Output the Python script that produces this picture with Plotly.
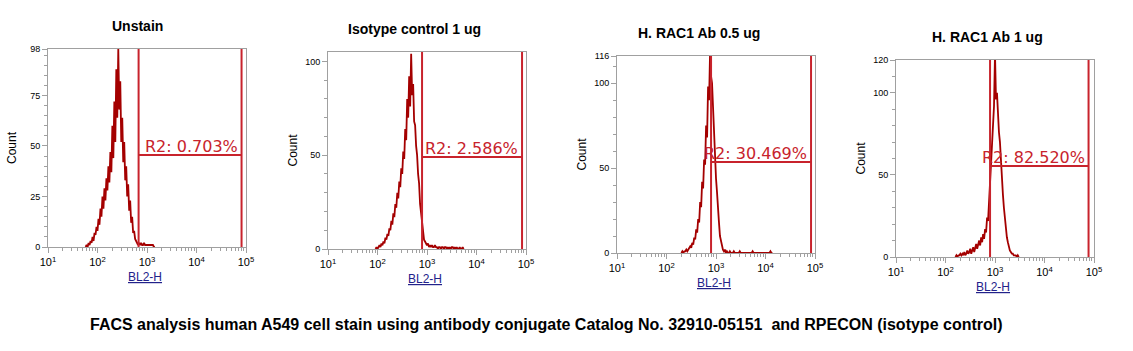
import plotly.graph_objects as go

# ---------------- data ----------------
titles = ["Unstain", "Isotype control 1 ug", "H. RAC1 Ab 0.5 ug", "H. RAC1 Ab 1 ug"]

# histogram bins: log10(BL2-H) start and step for each panel
bin_start = [1.76, 1.96, 2.30, 2.20]
bin_step = 0.02

counts_unstain = [0, 1, 0, 2, 1, 3, 2, 5, 3, 7, 6, 10, 8, 14, 11, 19, 15, 25, 19, 29,
                  23, 34, 28, 40, 32, 47, 37, 60, 44, 72, 52, 88, 64, 98, 68, 82, 52, 64, 42, 52,
                  33, 40, 25, 31, 18, 23, 12, 15, 7, 8, 4, 3, 2, 1, 2, 1, 2, 1, 1, 2,
                  1, 1, 1, 1, 1, 1, 1, 1, 1, 0, 0]
counts_isotype = [0, 1, 0, 1, 2, 1, 3, 2, 4, 3, 6, 5, 8, 7, 11, 10, 15, 13, 19, 17,
                  24, 22, 30, 27, 36, 33, 43, 40, 52, 48, 64, 58, 80, 70, 92, 76, 104, 82, 88, 68,
                  66, 55, 50, 40, 35, 24, 19, 12, 9, 5, 4, 3, 2, 3, 1, 2, 1, 2, 1, 1,
                  2, 1, 1, 0, 1, 1, 0, 1, 1, 0, 1, 1, 0, 1, 0, 1, 0, 1, 1, 0,
                  1, 0, 1, 0, 0, 1, 0, 0, 1, 0]
counts_rac1_05 = [0, 1, 0, 1, 1, 2, 1, 2, 3, 4, 3, 6, 5, 9, 8, 14, 12, 20, 18, 30,
                  27, 42, 38, 55, 52, 75, 68, 98, 90, 118, 104, 100, 86, 70, 60, 44, 36, 24, 18, 10,
                  7, 3, 2, 1, 2, 0, 1, 0, 0, 1, 0, 0, 0, 1, 0, 0, 0, 0, 0, 1,
                  0, 0, 0, 0, 0, 0, 0, 0, 0, 0, 0, 0, 1, 0, 0, 0, 0, 0, 0, 0,
                  0, 0, 0, 0, 0, 0, 0, 0, 0, 0, 1, 0, 0]
counts_rac1_1 = [0, 1, 0, 1, 1, 2, 1, 2, 1, 3, 1, 2, 4, 2, 3, 5, 2, 4, 6, 3,
                 5, 8, 5, 7, 10, 7, 12, 9, 14, 11, 17, 15, 24, 22, 34, 38, 55, 62, 80, 92,
                 124, 96, 100, 84, 76, 70, 56, 48, 38, 30, 22, 18, 12, 9, 6, 4, 3, 2, 2, 1,
                 1, 1, 0, 1, 0]
all_counts = [counts_unstain, counts_isotype, counts_rac1_05, counts_rac1_1]

# R2 gate: left / right bounds (log10 units), marker level (count), label
gate_left = [2.83, 2.90, 2.90, 2.90]
gate_right = [4.91, 4.92, 4.92, 4.89]
gate_level = [45.5, 49.0, 53.6, 55.4]
gate_labels = ["R2: 0.703%", "R2: 2.586%", "R2: 30.469%", "R2: 82.520%"]

y_max = [98, 105, 116, 120]
y_ticks = [[0, 25, 50, 75, 98], [0, 50, 100], [0, 50, 100, 116], [0, 50, 100, 120]]
y_minor = [5, 10, 10, 10]

x_tickvals = [10, 100, 1000, 10000, 100000]
x_ticktext = ["10<sup>1</sup>", "10<sup>2</sup>", "10<sup>3</sup>", "10<sup>4</sup>", "10<sup>5</sup>"]

caption = "FACS analysis human A549 cell stain using antibody conjugate Catalog No. 32910-05151  and RPECON (isotype control)"

# ---------------- layout geometry (pixels) ----------------
W, H = 1133, 351
plot_px = [(48, 246, 49, 247), (328, 526, 52, 249), (617, 815, 56, 253), (896, 1094, 60, 257)]
title_dx = [-10, -13, -17, -8]

HIST = "#a40000"
GATE = "#c8232c"
AX = "#a0a0a0"

fig = go.Figure()
layout = dict(width=W, height=H, margin=dict(l=0, r=0, t=0, b=0),
              paper_bgcolor="white", plot_bgcolor="white", showlegend=False,
              font=dict(family="Liberation Sans, Arial", color="black"))
shapes = []
annotations = []

for i in range(4):
    n = "" if i == 0 else str(i + 1)
    xa, ya = "x" + n, "y" + n
    x0, x1, y0, y1 = plot_px[i]
    xs = [10 ** (bin_start[i] + k * bin_step) for k in range(len(all_counts[i]))]
    fig.add_trace(go.Scatter(x=xs, y=all_counts[i], mode="lines", xaxis=xa, yaxis=ya,
                             line=dict(color=HIST, width=1.8), hoverinfo="skip"))
    layout["xaxis" + n] = dict(
        domain=[x0 / W, x1 / W], anchor=ya, type="log", range=[1, 5],
        tickvals=x_tickvals, ticktext=x_ticktext, ticks="outside", ticklen=5,
        tickcolor=AX, showline=True, linecolor=AX, linewidth=1, mirror=True,
        showgrid=False, zeroline=False, tickfont=dict(size=11, color="black"),
        minor=dict(ticks="outside", ticklen=3, dtick="D1", tickcolor=AX, showgrid=False),
        automargin=False)
    layout["yaxis" + n] = dict(
        domain=[1 - y1 / H, 1 - y0 / H], anchor=xa, range=[0, y_max[i]],
        tickvals=y_ticks[i], ticks="outside", ticklen=5, tickcolor=AX,
        showline=True, linecolor=AX, linewidth=1, mirror=True, showgrid=False,
        zeroline=False, tickfont=dict(size=9, color="black"),
        minor=dict(ticks="outside", ticklen=3, dtick=y_minor[i], tickcolor=AX, showgrid=False),
        automargin=False)
    # gate
    gl, gr = 10 ** gate_left[i], 10 ** gate_right[i]
    for xv in (gl, gr):
        shapes.append(dict(type="line", xref=xa, yref=ya + " domain", x0=xv, x1=xv, y0=0, y1=1,
                           line=dict(color=GATE, width=2)))
    shapes.append(dict(type="line", xref=xa, yref=ya, x0=gl, x1=gr, y0=gate_level[i], y1=gate_level[i],
                       line=dict(color=GATE, width=2)))
    annotations.append(dict(text=gate_labels[i], xref=xa, yref=ya, x=gate_right[i], y=gate_level[i],
                            xanchor="right", yanchor="bottom", showarrow=False, xshift=-2, yshift=-3,
                            font=dict(family="DejaVu Sans", size=16, color=GATE)))
    # titles
    annotations.append(dict(text="<b>" + titles[i] + "</b>", xref=xa + " domain", yref=ya + " domain",
                            x=0.5, y=1, xanchor="center", yanchor="middle", yshift=23,
                            xshift=title_dx[i], showarrow=False,
                            font=dict(family="Liberation Sans, Arial", size=14, color="black")))
    annotations.append(dict(text="Count", xref=xa + " domain", yref=ya + " domain", x=0, y=0.5,
                            xanchor="center", yanchor="middle", xshift=-36, textangle=-90,
                            showarrow=False, font=dict(family="Liberation Sans, Arial", size=12, color="black")))
    annotations.append(dict(text="<u>BL2-H</u>", xref=xa + " domain", yref=ya + " domain", x=0.5, y=0,
                            xanchor="center", yanchor="middle", yshift=-30, xshift=-2,
                            showarrow=False, font=dict(family="Liberation Sans, Arial", size=12, color="#22228a")))

annotations.append(dict(text="<b>" + caption + "</b>", xref="paper", yref="paper", x=546 / W, y=1 - 324 / H,
                        xanchor="center", yanchor="middle", showarrow=False,
                        font=dict(family="Liberation Sans, Arial", size=16, color="black")))

layout["shapes"] = shapes
layout["annotations"] = annotations
fig.update_layout(**layout)
fig.write_html("out.html")
